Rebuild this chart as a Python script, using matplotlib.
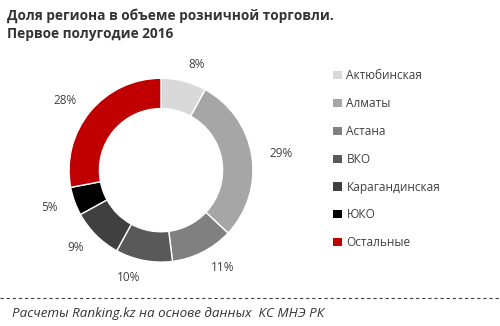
import matplotlib.pyplot as plt
from matplotlib.lines import Line2D
from matplotlib.patches import Patch

plt.rcParams['font.family'] = ['Open Sans', 'DejaVu Sans']

regions = ['Актюбинская', 'Алматы', 'Астана', 'ВКО', 'Карагандинская', 'ЮКО', 'Остальные']
shares = [8, 29, 11, 10, 9, 5, 28]
colors = ['#d9d9d9', '#a6a6a6', '#808080', '#595959', '#404040', '#000000', '#c00000']
labels = [f'{v}%' for v in shares]

text_color = '#404040'

fig = plt.figure(figsize=(5, 3.26), dpi=100)

# donut
ax = fig.add_axes([0.138, 0.196, 0.368, 0.564])
wedges, texts = ax.pie(shares, colors=colors, labels=labels, startangle=90,
                       counterclock=False, labeldistance=1.19,
                       wedgeprops=dict(width=0.33, edgecolor='white', linewidth=1),
                       textprops=dict(color=text_color, fontsize=8.5))
ax.set_xlim(-1, 1)
ax.set_ylim(-1, 1)
ax.set_aspect('equal')

# legend
handles = [Patch(facecolor=c, edgecolor='none') for c in colors]
fig.legend(handles, regions, loc='upper left', bbox_to_anchor=(0.645, 0.82),
           frameon=False, fontsize=8.6, handlelength=0.7, handleheight=0.7,
           handletextpad=0.4, labelspacing=1.24, labelcolor=text_color)

# title
fig.text(0.014, 0.975, 'Доля региона в объеме розничной торговли.\nПервое полугодие 2016',
         fontsize=9.8, fontweight='bold', color='#333333', va='top', ha='left',
         linespacing=1.4)

# footer
fig.add_artist(Line2D([0.0, 1.0], [0.086, 0.086], color='#404040', linewidth=0.8,
                      linestyle=(0, (3, 2.5)), transform=fig.transFigure))
fig.text(0.024, 0.037, 'Расчеты Ranking.kz на основе данных  КС МНЭ РК',
         fontsize=9.6, fontstyle='italic', color='#333333', va='center', ha='left')

fig.savefig('out.png', dpi=100)
